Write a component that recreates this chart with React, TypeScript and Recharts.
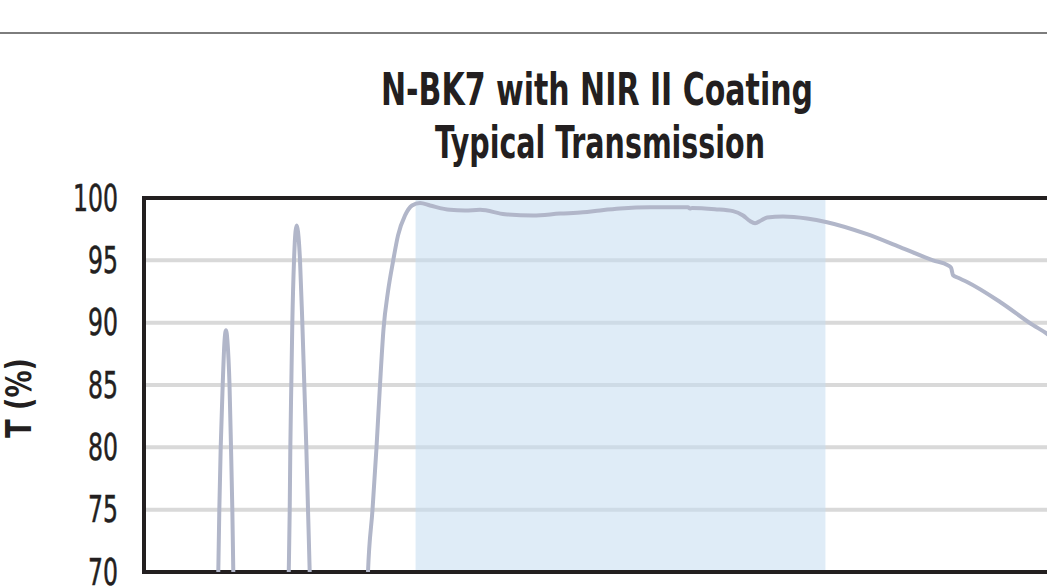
import React from "react";
import { LineChart, Line, XAxis, YAxis, CartesianGrid, ReferenceArea } from "recharts";

// Wavelength (nm) and typical transmission (%)
const wavelengths = [
  220, 363.1, 365.0, 367.0, 369.7, 373.6, 377.1, 380.0, 382.9, 386.9, 389.8, 392.4, 394.3, 396.3,
  448.4,
  500.5, 502.5, 504.4, 505.6, 507.5, 509.5, 512.8, 515.7, 518.1, 520.6, 524.5, 529.0, 532.9, 536.8, 540.1, 543.4, 546.0,
  598.7,
  653.3, 657.2, 666.0, 673.8, 680.6, 687.5, 696.2, 706.0, 715.8, 729.5, 743.1, 758.7, 778.2, 817.3, 846.6, 875.8,
  924.6, 979.3, 1032.0, 1076.9, 1110.1, 1149.1, 1207.7, 1281.8, 1285.7, 1289.6, 1334.5, 1369.6, 1389.2, 1402.8,
  1412.6, 1424.3, 1436.0, 1467.2, 1514.0, 1553.1, 1631.2, 1695.6, 1760.0, 1789.3, 1795.2, 1799.1, 1808.9,
  1826.5, 1890.9, 1955.3, 1982.6, 2000,
];
const transmission = [
  40, 65, 70, 75, 80, 85, 88.5, 89.4, 88.5, 85, 80, 75, 70, 65,
  45,
  65, 70, 75, 80, 85, 90, 95, 97.3, 97.8, 97.3, 95, 90, 85, 80, 75, 70, 65,
  45,
  65, 70, 75, 80, 85, 89.5, 92.5, 94.9, 97, 98.6, 99.4, 99.6, 99.4, 99.05, 99.0, 99.05,
  98.7, 98.6, 98.75, 98.85, 99.0, 99.15, 99.25, 99.25, 99.15, 99.2, 99.1, 98.95, 98.6, 98.15,
  97.98, 98.2, 98.44, 98.52, 98.36, 98.06, 97.1, 96.06, 95.0, 94.6, 94.4, 93.8, 93.6,
  93.26, 91.66, 89.8, 89.1, 88.5,
];
const yTicks = [70, 75, 80, 85, 90, 95, 100];
const bandStart = 750;
const bandEnd = 1550;
const xDomain = [220, 2000];
const titleLines = ["N-BK7 with NIR II Coating", "Typical Transmission"];
const yLabel = "T (%)";

const data = wavelengths.map((w, i) => ({ wl: w, t: transmission[i] }));

const FONT = "'Liberation Sans Narrow', 'DejaVu Sans Condensed', 'Liberation Sans', Arial, sans-serif";

const Tick = (props: any) => {
  const { x, y, payload } = props;
  const s = String(payload.value);
  return (
    <text
      x={x}
      y={y}
      textAnchor="end"
      dominantBaseline="central"
      fontFamily={FONT}
      fontSize={37}
      fill="#231f20"
      stroke="#231f20"
      strokeWidth={0.5}
      textLength={s.length * 15}
      lengthAdjust="spacingAndGlyphs"
    >
      {s}
    </text>
  );
};

export default function App() {
  return (
    <div
      style={{
        position: "absolute",
        left: 0,
        top: 0,
        width: 1047,
        height: 588,
        overflow: "hidden",
        background: "#ffffff",
      }}
    >
      <div style={{ position: "absolute", left: 0, top: 32, width: 1047, height: 2, background: "#7d7d7d" }} />
      <svg width={1047} height={588} style={{ position: "absolute", left: 0, top: 0 }}>
        <text
          x={597}
          y={105}
          textAnchor="middle"
          fontFamily={FONT}
          fontWeight="bold"
          fontSize={44}
          fill="#231f20"
          textLength={432}
          lengthAdjust="spacingAndGlyphs"
        >
          {titleLines[0]}
        </text>
        <text
          x={600}
          y={158}
          textAnchor="middle"
          fontFamily={FONT}
          fontWeight="bold"
          fontSize={44}
          fill="#231f20"
          textLength={330}
          lengthAdjust="spacingAndGlyphs"
        >
          {titleLines[1]}
        </text>
        <text
          x={18}
          y={398}
          textAnchor="middle"
          dominantBaseline="central"
          transform="rotate(-90, 18, 398)"
          fontFamily={FONT}
          fontWeight="bold"
          fontSize={36}
          fill="#231f20"
          textLength={80}
          lengthAdjust="spacingAndGlyphs"
        >
          {yLabel}
        </text>
      </svg>
      <div style={{ position: "absolute", left: 0, top: 0 }}>
        <LineChart width={1070} height={588} data={data} margin={{ top: 198, right: 14, bottom: 16, left: 0 }}>
          <XAxis
            dataKey="wl"
            type="number"
            domain={xDomain}
            allowDataOverflow
            hide
          />
          <YAxis
            type="number"
            domain={[70, 100]}
            ticks={yTicks}
            allowDataOverflow
            width={144}
            axisLine={false}
            tickLine={false}
            tickSize={0}
            tickMargin={26}
            tick={<Tick />}
            interval={0}
          />
          <CartesianGrid vertical={false} stroke="#d9d9d9" strokeWidth={4} />
          <ReferenceArea
            x1={bandStart}
            x2={bandEnd}
            y1={70}
            y2={100}
            fill="#c5dcf0"
            fillOpacity={0.55}
            stroke="none"
          />
          <Line
            type="monotone"
            dataKey="t"
            stroke="#b1b6c9"
            strokeWidth={4}
            dot={false}
            activeDot={false}
            isAnimationActive={false}
          />
          <ReferenceArea
            x1={xDomain[0]}
            x2={xDomain[1]}
            y1={70}
            y2={100}
            fill="none"
            stroke="#231f20"
            strokeWidth={4}
          />
        </LineChart>
      </div>
    </div>
  );
}
